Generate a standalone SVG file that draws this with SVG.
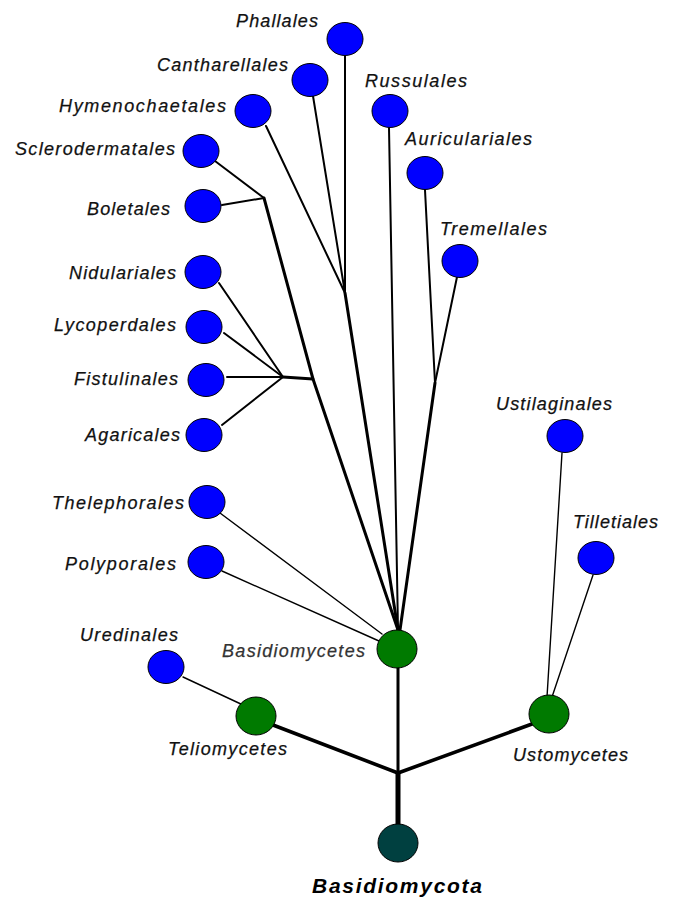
<svg xmlns="http://www.w3.org/2000/svg" width="675" height="899" viewBox="0 0 675 899">
  <style>
    .lbl { font-family: "Liberation Sans", Arial, sans-serif; font-style: italic; font-size: 18px; fill: #111; stroke: #111; stroke-width: 0.25; }
    .lbl.grey { fill: #333; stroke: #333; }
    .title { font-family: "Liberation Sans", Arial, sans-serif; font-style: italic; font-weight: bold; font-size: 21px; fill: #000; }
    .order { fill: #0000ff; stroke: #000; stroke-width: 1; }
    .cls { fill: #007a00; stroke: #000; stroke-width: 1; }
    .root { fill: #004040; stroke: #000; stroke-width: 1; }
    .edges line, .edges polyline { stroke: #000; fill: none; stroke-linecap: round; stroke-linejoin: round; }
    .w1 { stroke-width: 1.4; }
    .w2 { stroke-width: 2; }
    .w3 { stroke-width: 3; }
    .w4 { stroke-width: 3.6; }
    .w5 { stroke-width: 5; }
  </style>

  <!-- connectors -->
  <g id="edges" class="edges">
    <!-- trunk and class branches -->
    <line class="w5" x1="398" y1="773" x2="398" y2="826"/>
    <line class="w4" x1="398" y1="773" x2="273" y2="725"/>
    <line class="w4" x1="398" y1="773" x2="532" y2="724"/>
    <line class="w3" x1="398" y1="773" x2="398" y2="668"/>

    <!-- Basidiomycetes fan -->
    <polyline class="w3" points="264,198 313,379 398,630"/>
    <polyline class="w3" points="345,293 398,630"/>
    <line class="w2" x1="389" y1="128" x2="398" y2="630"/>
    <polyline class="w3" points="435,383 400,630"/>
    <line class="w2" x1="425" y1="190" x2="435" y2="383"/>
    <line class="w2" x1="457" y1="277" x2="435" y2="383"/>
    <line class="w2" x1="345" y1="56" x2="345" y2="293"/>
    <line class="w2" x1="313" y1="96" x2="345" y2="293"/>
    <line class="w2" x1="266" y1="126" x2="345" y2="293"/>
    <line class="w2" x1="215" y1="161" x2="264" y2="198"/>
    <line class="w2" x1="222" y1="205" x2="264" y2="198"/>
    <line class="w3" x1="283" y1="377" x2="313" y2="379"/>
    <line class="w2" x1="219" y1="283" x2="283" y2="377"/>
    <line class="w2" x1="224" y1="333" x2="283" y2="377"/>
    <line class="w2" x1="227" y1="377" x2="283" y2="377"/>
    <line class="w2" x1="222" y1="425" x2="283" y2="377"/>
    <line class="w1" x1="220" y1="513" x2="382" y2="634"/>
    <line class="w1" x1="222" y1="571" x2="379" y2="641"/>

    <!-- Teliomycetes / Ustomycetes -->
    <line class="w1" x1="183" y1="677" x2="243" y2="705"/>
    <line class="w1" x1="562" y1="453" x2="547" y2="697"/>
    <line class="w1" x1="593" y1="575" x2="552" y2="697"/>
  </g>

  <!-- root -->
  <g id="basidiomycota">
    <ellipse class="root" cx="398" cy="843" rx="20" ry="19"/>
    <text class="title" x="312" y="893" textLength="170">Basidiomycota</text>
  </g>

  <!-- classes -->
  <g id="basidiomycetes">
    <ellipse class="cls" cx="397" cy="649" rx="20" ry="19"/>
    <text class="lbl grey" x="222" y="657" textLength="143">Basidiomycetes</text>
  </g>
  <g id="teliomycetes">
    <ellipse class="cls" cx="256" cy="716" rx="20" ry="19"/>
    <text class="lbl" x="168" y="755" textLength="119">Teliomycetes</text>
  </g>
  <g id="ustomycetes">
    <ellipse class="cls" cx="549" cy="714" rx="20" ry="19"/>
    <text class="lbl" x="513" y="761" textLength="115">Ustomycetes</text>
  </g>

  <!-- orders -->
  <g id="phallales">
    <ellipse class="order" cx="345" cy="39" rx="18" ry="16.5"/>
    <text class="lbl" x="236" y="27" textLength="82">Phallales</text>
  </g>
  <g id="cantharellales">
    <ellipse class="order" cx="310" cy="80" rx="18" ry="16.5"/>
    <text class="lbl" x="157" y="71" textLength="131">Cantharellales</text>
  </g>
  <g id="hymenochaetales">
    <ellipse class="order" cx="253" cy="111" rx="18" ry="16.5"/>
    <text class="lbl" x="59" y="112" textLength="167">Hymenochaetales</text>
  </g>
  <g id="sclerodermatales">
    <ellipse class="order" cx="201" cy="151" rx="18" ry="16.5"/>
    <text class="lbl" x="15" y="155" textLength="160">Sclerodermatales</text>
  </g>
  <g id="boletales">
    <ellipse class="order" cx="203" cy="206" rx="18" ry="16.5"/>
    <text class="lbl" x="87" y="215" textLength="83">Boletales</text>
  </g>
  <g id="russulales">
    <ellipse class="order" cx="390" cy="111" rx="18" ry="16.5"/>
    <text class="lbl" x="365" y="87" textLength="102">Russulales</text>
  </g>
  <g id="auriculariales">
    <ellipse class="order" cx="425" cy="173" rx="18" ry="16.5"/>
    <text class="lbl" x="405" y="145" textLength="127">Auriculariales</text>
  </g>
  <g id="tremellales">
    <ellipse class="order" cx="460" cy="261" rx="18" ry="16.5"/>
    <text class="lbl" x="440" y="235" textLength="107">Tremellales</text>
  </g>
  <g id="nidulariales">
    <ellipse class="order" cx="203" cy="272" rx="18" ry="16.5"/>
    <text class="lbl" x="69" y="279" textLength="107">Nidulariales</text>
  </g>
  <g id="lycoperdales">
    <ellipse class="order" cx="204" cy="327" rx="18" ry="16.5"/>
    <text class="lbl" x="54" y="331" textLength="122">Lycoperdales</text>
  </g>
  <g id="fistulinales">
    <ellipse class="order" cx="206" cy="380" rx="18" ry="16.5"/>
    <text class="lbl" x="74" y="385" textLength="104">Fistulinales</text>
  </g>
  <g id="agaricales">
    <ellipse class="order" cx="204" cy="435" rx="18" ry="16.5"/>
    <text class="lbl" x="85" y="441" textLength="95">Agaricales</text>
  </g>
  <g id="thelephorales">
    <ellipse class="order" cx="207" cy="502" rx="18" ry="16.5"/>
    <text class="lbl" x="52" y="509" textLength="132">Thelephorales</text>
  </g>
  <g id="polyporales">
    <ellipse class="order" cx="206" cy="562" rx="18" ry="16.5"/>
    <text class="lbl" x="65" y="570" textLength="111">Polyporales</text>
  </g>
  <g id="uredinales">
    <ellipse class="order" cx="166" cy="667" rx="18" ry="16.5"/>
    <text class="lbl" x="80" y="641" textLength="98">Uredinales</text>
  </g>
  <g id="ustilaginales">
    <ellipse class="order" cx="565" cy="436" rx="18" ry="16.5"/>
    <text class="lbl" x="496" y="410" textLength="116">Ustilaginales</text>
  </g>
  <g id="tilletiales">
    <ellipse class="order" cx="596" cy="558" rx="18" ry="16.5"/>
    <text class="lbl" x="573" y="528" textLength="85">Tilletiales</text>
  </g>
</svg>
